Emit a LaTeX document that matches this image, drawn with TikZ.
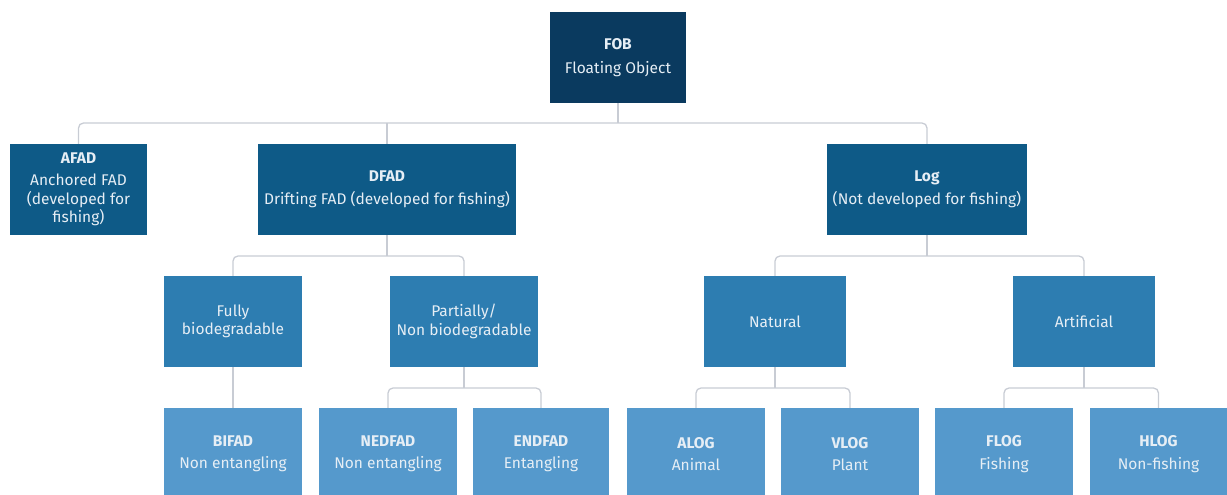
\documentclass[tikz,border=0pt]{standalone}
\usepackage{fontspec}
\setmainfont{Fira Sans}
\definecolor{c0}{HTML}{0A3A5F}
\definecolor{c1}{HTML}{0E5A87}
\definecolor{c2}{HTML}{2D7DB1}
\definecolor{c3}{HTML}{5599CC}
\definecolor{txt}{HTML}{E6EEF5}
\definecolor{conn}{HTML}{C8CCD4}
\begin{document}
\begin{tikzpicture}[x=1pt,y=-1pt,
  box/.style={rectangle, inner sep=0pt, text=txt, align=center,
    font=\fontsize{15.5}{18.5}\selectfont, minimum height=91pt},
  lv0/.style={box, fill=c0, minimum width=136pt},
  lv1/.style={box, fill=c1},
  lv2/.style={box, fill=c2},
  lv3/.style={box, fill=c3, minimum width=138pt, minimum height=92pt},
  link/.style={draw=conn, line width=1.3pt, rounded corners=5pt}]
\useasboundingbox (0,0) rectangle (1227,495);
% level 0
\node[lv0] (fob) at (618,57.5) {\textbf{FOB}\\[6pt]Floating Object};
% level 1
\node[lv1, minimum width=137pt] (afad) at (78.5,189.5) {\textbf{AFAD}\\[4pt]Anchored FAD\\(developed for\\fishing)};
\node[lv1, minimum width=258pt] (dfad) at (387,189.5) {\textbf{DFAD}\\[5pt]Drifting FAD (developed for fishing)};
\node[lv1, minimum width=200pt] (log) at (927,189.5) {\textbf{Log}\\[5pt](Not developed for fishing)};
% level 2
\node[lv2, minimum width=138pt] (fully) at (233,321.5) {Fully\\biodegradable};
\node[lv2, minimum width=148pt] (part) at (464,321.5) {Partially/\\Non biodegradable};
\node[lv2, minimum width=142pt] (nat) at (775,321.5) {Natural};
\node[lv2, minimum width=142pt] (art) at (1084,321.5) {Artificial};
% level 3
\node[lv3] (bifad) at (233,454) {\textbf{BIFAD}\\[4pt]Non entangling};
\node[lv3] (nedfad) at (388,454) {\textbf{NEDFAD}\\[4pt]Non entangling};
\node[lv3, minimum width=136pt] (endfad) at (541,454) {\textbf{ENDFAD}\\[4pt]Entangling};
\node[lv3] (alog) at (696,454) {\textbf{ALOG}\\[4pt]Animal};
\node[lv3] (vlog) at (850,454) {\textbf{VLOG}\\[4pt]Plant};
\node[lv3] (flog) at (1004,454) {\textbf{FLOG}\\[4pt]Fishing};
\node[lv3, minimum width=137pt] (hlog) at (1158.5,454) {\textbf{HLOG}\\[4pt]Non-fishing};
% connectors
\coordinate (b0) at (618,123);
\draw[link] (fob.south) -- (b0);
\draw[link] (afad.north) |- (b0) -| (log.north);
\draw[link] (dfad.north) -- (dfad.north |- b0);
\coordinate (b1) at (387,256);
\draw[link] (dfad.south) -- (b1);
\draw[link] (fully.north) |- (b1) -| (part.north);
\coordinate (b2) at (927,256);
\draw[link] (log.south) -- (b2);
\draw[link] (nat.north) |- (b2) -| (art.north);
\draw[link] (fully.south) -- (bifad.north);
\coordinate (b3) at (464,388);
\draw[link] (part.south) -- (b3);
\draw[link] (nedfad.north) |- (b3) -| (endfad.north);
\coordinate (b4) at (775,388);
\draw[link] (nat.south) -- (b4);
\draw[link] (alog.north) |- (b4) -| (vlog.north);
\coordinate (b5) at (1084,388);
\draw[link] (art.south) -- (b5);
\draw[link] (flog.north) |- (b5) -| (hlog.north);
\end{tikzpicture}
\end{document}
